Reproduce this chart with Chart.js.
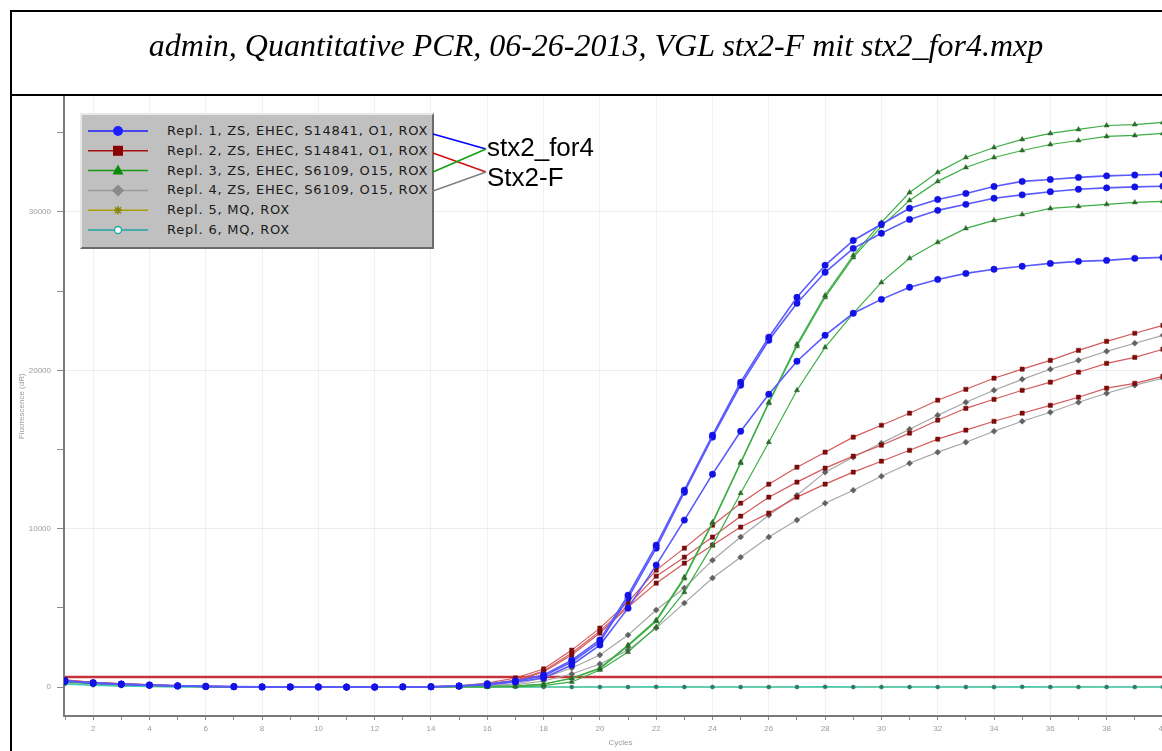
<!DOCTYPE html>
<html>
<head>
<meta charset="utf-8">
<script src="https://cdn.jsdelivr.net/npm/chart.js@4/dist/chart.umd.min.js"></script>
<style>
html,body{margin:0;padding:0;background:#fff;}
body{width:1162px;height:751px;overflow:hidden;position:relative;}
#frame{position:absolute;left:10px;top:10px;width:1200px;height:800px;border-top:2px solid #000;border-left:2px solid #000;}
#tbar{position:absolute;left:10px;top:94px;width:1200px;height:2px;background:#000;}
#chart{position:absolute;left:12px;top:92px;}
#legend{position:absolute;left:80px;top:113px;width:350px;height:132px;background:#c0c0c0;
  border-top:2px solid #e8e8e8;border-left:2px solid #e8e8e8;border-right:2px solid #6a6a6a;border-bottom:2px solid #6a6a6a;}
#legend svg{position:absolute;left:0;top:0;}
.lt{position:absolute;left:85px;font-family:"DejaVu Sans",sans-serif;font-size:13px;letter-spacing:0.8px;color:#1a1a1a;line-height:16px;white-space:nowrap;}
#over{position:absolute;left:0;top:0;pointer-events:none;}
</style>
</head>
<body>
<div id="frame"></div>
<canvas id="chart" width="1180" height="668"></canvas>
<div id="tbar"></div>
<div id="legend"></div>
<svg id="over" width="1162" height="751">
  <text x="596" y="56" text-anchor="middle" font-family="Liberation Serif, Times New Roman, serif" font-style="italic" font-size="32" fill="#000">admin, Quantitative PCR, 06-26-2013, VGL stx2-F mit stx2_for4.mxp</text>
  <line x1="433" y1="134" x2="486" y2="149" stroke="#0000ff" stroke-width="1.5"/>
  <line x1="433" y1="153" x2="486" y2="172" stroke="#d01010" stroke-width="1.5"/>
  <line x1="433" y1="172" x2="486" y2="149" stroke="#10a010" stroke-width="1.5"/>
  <line x1="433" y1="191" x2="486" y2="172" stroke="#808080" stroke-width="1.5"/>
  <text x="487" y="156" font-family="Liberation Sans, Arial, sans-serif" font-size="26" fill="#000">stx2_for4</text>
  <text x="487" y="186" font-family="Liberation Sans, Arial, sans-serif" font-size="26" fill="#000">Stx2-F</text>
</svg>
<script>
// ---------- data ----------
const cycles = [1,2,3,4,5,6,7,8,9,10,11,12,13,14,15,16,17,18,19,20,21,22,23,24,25,26,27,28,29,30,31,32,33,34,35,36,37,38,39,40];
const xTickLabels = ['','2','','4','','6','','8','','10','','12','','14','','16','','18','','20','','22','','24','','26','','28','','30','','32','','34','','36','','38','','40'];
const yTickValues = [0,5000,10000,15000,20000,25000,30000,35000];
const yTickLabels = ['0','','10000','','20000','','30000',''];
const threshold = 630;

// Repl. 1 (blue) wells
const repl1a = [380,250,180,120,70,40,20,10,0,0,-10,0,10,20,60,190,380,760,1700,2970,5800,8960,12430,15900,19250,22090,24610,26630,28200,29220,30230,30790,31170,31610,31930,32050,32180,32280,32330,32380];
const repl1b = [400,270,190,130,80,40,30,10,10,0,0,-10,10,20,60,190,380,690,1580,2840,5620,8770,12300,15780,19060,21900,24230,26190,27700,28650,29530,30100,30480,30860,31080,31280,31430,31520,31580,31620];
const repl1c = [360,240,170,110,60,30,20,0,0,10,0,0,10,10,60,130,320,570,1390,2650,4980,7700,10540,13440,16150,18490,20570,22210,23600,24480,25240,25740,26120,26380,26570,26750,26880,26940,27070,27130];
// Repl. 2 (red) wells
const repl2a = [450,300,220,150,90,50,30,20,10,10,0,10,20,30,70,250,570,1140,2330,3720,5360,7380,8770,10220,11610,12810,13880,14830,15780,16530,17290,18110,18800,19500,20070,20630,21260,21830,22340,22840];
const repl2b = [430,290,200,140,80,50,30,10,10,0,0,0,20,30,60,190,440,1010,2150,3530,5170,7000,8200,9470,10790,11990,12940,13820,14580,15270,16030,16850,17600,18170,18740,19250,19880,20440,20820,21330];
const repl2c = [420,280,200,130,80,40,20,10,0,0,0,0,10,20,50,130,380,950,2020,3410,5050,6560,7820,8960,10100,10980,11990,12810,13570,14260,14950,15650,16220,16780,17290,17790,18300,18870,19180,19620];
// Repl. 3 (green) wells
const repl3a = [360,240,160,100,50,20,10,0,0,-10,0,0,0,10,30,20,60,190,570,1200,2650,4230,6940,10410,14200,17980,21640,24730,27260,29340,31230,32500,33440,34070,34580,34960,35210,35460,35520,35650];
const repl3b = [340,230,150,100,50,20,0,0,-10,0,0,-10,0,10,20,20,60,180,540,1150,2580,4150,6850,10350,14130,17920,21520,24610,27130,29090,30730,31930,32810,33440,33880,34260,34510,34770,34830,34960];
const repl3c = [330,220,150,90,40,20,0,-10,0,0,-10,0,0,10,20,10,30,90,320,1070,2210,3790,5990,8960,12240,15460,18740,21450,23600,25550,27070,28080,28960,29470,29840,30220,30350,30480,30600,30670];
// Repl. 4 (grey) wells
const repl4a = [370,250,170,110,60,30,10,0,0,0,-10,0,0,10,30,80,190,570,1200,2020,3280,4860,6250,8010,9470,10850,12110,13570,14510,15400,16280,17160,17980,18740,19430,20070,20630,21200,21710,22210];
const repl4b = [350,230,160,100,50,20,10,0,-10,0,0,-10,0,10,20,60,130,380,820,1450,2330,3720,5300,6880,8200,9470,10540,11610,12430,13310,14130,14830,15460,16150,16780,17350,17980,18550,19060,19500];
// Repl. 5 / 6 (no template)
const repl5 = [230,130,70,40,20,10,0,0,-10,0,0,0,-10,0,0,10,0,0,-10,0,0,0,10,0,0,-10,0,0,0,10,0,0,0,-10,0,0,10,0,0,0];
const repl6 = [200,110,60,30,10,0,0,0,0,0,10,0,0,0,0,0,10,0,0,0,0,10,0,0,0,0,0,10,0,0,0,0,0,0,10,0,0,0,0,0];

const legendNames = ['Repl. 1, ZS, EHEC, S14841, O1, ROX','Repl. 2, ZS, EHEC, S14841, O1, ROX','Repl. 3, ZS, EHEC, S6109, O15, ROX','Repl. 4, ZS, EHEC, S6109, O15, ROX','Repl. 5, MQ, ROX','Repl. 6, MQ, ROX'];

// ---------- styles ----------
const sty = {
  blue:  {line:'#5a5aff', pt:'#1212e6', ps:'circle', r:3.2, w:1.6},
  red:   {line:'#d45a5a', pt:'#7a0c0c', ps:'rect', r:3, w:1.2},
  green: {line:'#3cae44', pt:'#2d6a2d', ps:'triangle', r:3, w:1.2},
  grey:  {line:'#a6a6a6', pt:'#626262', ps:'rectRot', r:3, w:1.2},
  yel:   {line:'#c8c040', pt:'#8a8a20', ps:'star', r:2, w:1.2},
  teal:  {line:'#40cbb6', pt:'#2a7a70', ps:'circle', r:2, w:1.6}
};
function ds(vals, s){
  return {data: cycles.map((c,i)=>({x:c,y:vals[i]})), borderColor:s.line, borderWidth:s.w,
    pointStyle:s.ps, pointRadius:s.r, pointBackgroundColor:s.pt, pointBorderColor:s.pt, pointBorderWidth:0.5,
    tension:0, fill:false};
}
const datasets = [
  ds(repl1a, sty.blue), ds(repl1b, sty.blue), ds(repl1c, sty.blue),
  ds(repl3a, sty.green), ds(repl3b, sty.green), ds(repl3c, sty.green),
  ds(repl2a, sty.red), ds(repl2b, sty.red), ds(repl2c, sty.red),
  ds(repl4a, sty.grey), ds(repl4b, sty.grey),
  {data: cycles.map(c=>({x:c,y:threshold})), borderColor:'#c8303c', borderWidth:2.4, pointRadius:0, fill:false},
  ds(repl6, sty.teal), ds(repl5, sty.yel)
];

new Chart(document.getElementById('chart'), {
  type:'line',
  data:{datasets},
  options:{
    responsive:false, animation:false, devicePixelRatio:1,
    layout:{padding:{left:0,right:15,top:0,bottom:0}},
    plugins:{legend:{display:false}, tooltip:{enabled:false}},
    scales:{
      x:{type:'linear', min:0.964, max:40.5,
        afterBuildTicks:(s)=>{ s.ticks = cycles.map(v=>({value:v})); },
        afterFit:(s)=>{ s.height = 44; s.paddingLeft = 0; s.paddingRight = 0; },
        ticks:{autoSkip:false, maxRotation:0, padding:4, color:'#9c9c9c', font:{family:'Liberation Sans', size:8},
          callback:(v,i)=>xTickLabels[i]},
        grid:{color:(c)=> (c.tick && c.tick.value%2===0) ? 'rgba(0,0,0,0.06)' : 'rgba(0,0,0,0)', tickColor:'#8a8a8a', tickLength:4, lineWidth:1},
        border:{display:true, color:'#7a7a7a', width:2},
        title:{display:true, text:'Cycles', color:'#9c9c9c', font:{family:'Liberation Sans', size:8}, padding:{top:0,bottom:12}}
      },
      y:{type:'linear', min:-1830, max:37290,
        afterBuildTicks:(s)=>{ s.ticks = yTickValues.map(v=>({value:v})); },
        afterFit:(s)=>{ s.width = 52; s.paddingTop = 0; s.paddingBottom = 0; },
        ticks:{padding:6, color:'#9c9c9c', font:{family:'Liberation Sans', size:8}, callback:(v,i)=>yTickLabels[i]},
        grid:{color:(c)=> (c.tick && c.tick.value%10000===0 && c.tick.value!==0) ? 'rgba(0,0,0,0.07)' : 'rgba(0,0,0,0)', tickColor:'#8a8a8a', tickLength:7, lineWidth:1},
        border:{display:true, color:'#7a7a7a', width:2},
        title:{display:true, text:'Fluorescence (dR)', color:'#9c9c9c', font:{family:'Liberation Sans', size:8}, padding:{top:5,bottom:0}}
      }
    }
  }
});

// ---------- legend (HTML) ----------
const legCols = [
  {line:'#1e1eff', fill:'#1e1eff', shape:'circle'},
  {line:'#a81010', fill:'#8a0000', shape:'square'},
  {line:'#169a16', fill:'#0a8a0a', shape:'triangle'},
  {line:'#9a9a9a', fill:'#8a8a8a', shape:'diamond'},
  {line:'#a8a000', fill:'#8a8400', shape:'star'},
  {line:'#20a6a6', fill:'#ffffff', shape:'open'}
];
const leg = document.getElementById('legend');
let svg = '<svg width="350" height="132">';
legendNames.forEach((n,i)=>{
  const cy = 16 + i*19.8, cx = 36, c = legCols[i];
  svg += `<line x1="6" y1="${cy}" x2="66" y2="${cy}" stroke="${c.line}" stroke-width="1.5"/>`;
  if(c.shape==='circle') svg += `<circle cx="${cx}" cy="${cy}" r="5" fill="${c.fill}"/>`;
  if(c.shape==='square') svg += `<rect x="${cx-5}" y="${cy-5}" width="10" height="10" fill="${c.fill}"/>`;
  if(c.shape==='triangle') svg += `<polygon points="${cx},${cy-6} ${cx+5.5},${cy+4} ${cx-5.5},${cy+4}" fill="${c.fill}"/>`;
  if(c.shape==='diamond') svg += `<polygon points="${cx},${cy-6} ${cx+6},${cy} ${cx},${cy+6} ${cx-6},${cy}" fill="${c.fill}"/>`;
  if(c.shape==='star') svg += `<path d="M${cx-4} ${cy}H${cx+4}M${cx} ${cy-4}V${cy+4}M${cx-3} ${cy-3}L${cx+3} ${cy+3}M${cx-3} ${cy+3}L${cx+3} ${cy-3}" stroke="${c.fill}" stroke-width="1.6"/>`;
  if(c.shape==='open') svg += `<circle cx="${cx}" cy="${cy}" r="3.5" fill="#fff" stroke="${c.line}" stroke-width="1.3"/>`;
});
svg += '</svg>';
leg.innerHTML = svg + legendNames.map((n,i)=>`<div class="lt" style="top:${16 + i*19.8 - 8}px">${n}</div>`).join('');
</script>
</body>
</html>
